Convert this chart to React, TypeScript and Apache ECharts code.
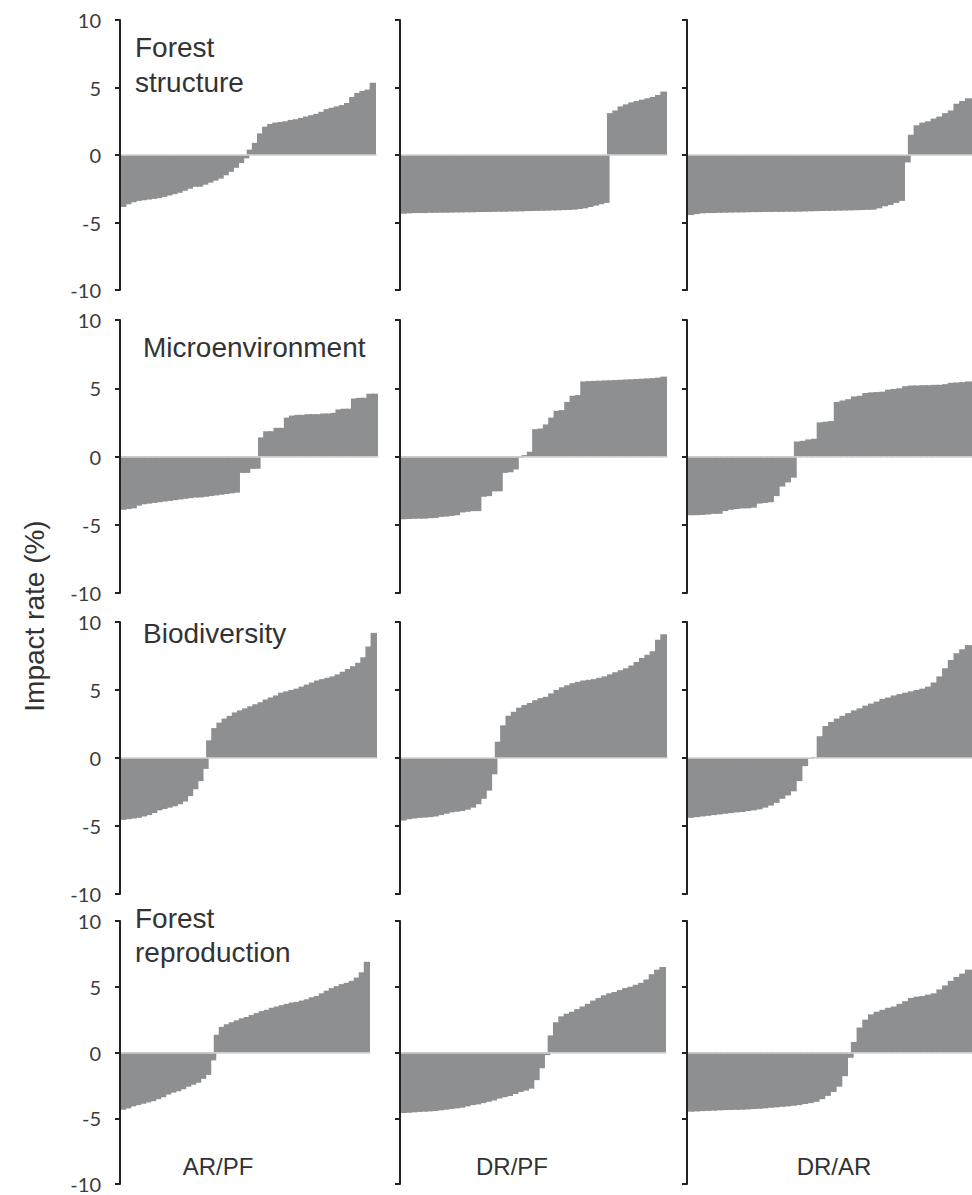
import React, { useEffect, useRef } from "react";
import * as echarts from "echarts";

// Row panels (top to bottom) and column comparisons (left to right)
const panelTitles = ["Forest\nstructure", "Microenvironment", "Biodiversity", "Forest\nreproduction"];
const comparisons = ["AR/PF", "DR/PF", "DR/AR"];
const yTicks = [-10, -5, 0, 5, 10];

// Forest structure
const fsARPF = [-3.85,-3.65,-3.5,-3.4,-3.35,-3.3,-3.25,-3.2,-3.1,-3.0,
  -2.9,-2.8,-2.65,-2.5,-2.35,-2.35,-2.2,-2.05,-1.9,-1.75,
  -1.5,-1.25,-0.95,-0.6,-0.25,0.4,0.9,1.6,2.1,2.3,
  2.4,2.45,2.5,2.6,2.65,2.75,2.85,2.95,3.05,3.2,
  3.4,3.5,3.6,3.7,3.85,4.3,4.6,4.75,4.85,5.35];
const fsDRPF = [-4.35,-4.32,-4.3,-4.3,-4.3,-4.28,-4.28,-4.27,-4.27,-4.26,
  -4.25,-4.25,-4.24,-4.24,-4.23,-4.22,-4.22,-4.21,-4.2,-4.2,
  -4.19,-4.18,-4.17,-4.16,-4.15,-4.14,-4.13,-4.12,-4.1,-4.1,
  -4.08,-4.07,-4.05,-4.0,-3.95,-3.85,-3.75,-3.65,-3.55,
  3.1,3.3,3.6,3.75,3.9,4.0,4.1,4.2,4.3,4.45,4.7];
const fsDRAR = [-4.45,-4.38,-4.32,-4.3,-4.3,-4.28,-4.27,-4.26,-4.25,-4.25,
  -4.24,-4.23,-4.23,-4.22,-4.22,-4.21,-4.21,-4.2,-4.2,-4.19,
  -4.18,-4.17,-4.16,-4.15,-4.14,-4.13,-4.12,-4.11,-4.1,-4.09,
  -4.08,-4.06,-4.05,-3.95,-3.8,-3.7,-3.55,-3.4,-0.55,
  1.5,2.2,2.4,2.5,2.7,2.85,3.1,3.3,3.8,4.0,4.2];

// Microenvironment
const meARPF = [-3.9,-3.85,-3.8,-3.6,-3.5,-3.45,-3.4,-3.35,-3.3,-3.25,
  -3.2,-3.15,-3.1,-3.05,-3.0,-3.0,-2.95,-2.9,-2.85,-2.8,
  -2.75,-2.7,-2.65,-1.2,-1.2,-0.9,-0.9,1.4,1.85,1.85,
  2.1,2.1,2.85,3.0,3.05,3.05,3.1,3.1,3.1,3.15,
  3.15,3.2,3.45,3.5,3.5,4.25,4.3,4.3,4.6,4.6];
const meDRPF = [-4.6,-4.58,-4.56,-4.55,-4.55,-4.52,-4.5,-4.42,-4.4,-4.35,
  -4.3,-4.1,-4.05,-4.0,-4.0,-2.95,-2.9,-2.55,-2.55,-1.2,
  -1.15,-0.95,-0.1,0.1,0.35,2.0,2.05,2.35,2.85,3.35,
  3.4,4.0,4.45,4.5,5.5,5.52,5.54,5.55,5.57,5.58,
  5.6,5.62,5.64,5.66,5.68,5.7,5.72,5.74,5.78,5.85];
const meDRAR = [-4.3,-4.3,-4.28,-4.25,-4.2,-4.2,-4.0,-3.9,-3.85,-3.8,
  -3.8,-3.75,-3.45,-3.4,-3.35,-2.9,-2.2,-1.9,-1.55,1.1,
  1.15,1.25,1.3,2.5,2.55,2.6,4.0,4.1,4.2,4.4,
  4.45,4.65,4.7,4.72,4.75,4.9,4.95,5.0,5.15,5.2,
  5.2,5.22,5.22,5.25,5.25,5.3,5.4,5.42,5.45,5.5];

// Biodiversity
const bdARPF = [-4.55,-4.5,-4.45,-4.4,-4.3,-4.2,-4.05,-3.85,-3.75,-3.65,
  -3.55,-3.4,-3.2,-2.8,-2.3,-1.7,-0.8,1.3,2.2,2.6,
  2.9,3.1,3.35,3.5,3.65,3.8,3.95,4.1,4.3,4.45,
  4.6,4.8,4.9,5.0,5.1,5.25,5.4,5.55,5.7,5.8,
  5.9,6.0,6.15,6.35,6.55,6.75,7.0,7.4,8.2,9.2];
const bdDRPF = [-4.6,-4.5,-4.45,-4.4,-4.38,-4.35,-4.3,-4.2,-4.1,-4.0,
  -3.95,-3.9,-3.8,-3.65,-3.4,-3.0,-2.4,-1.2,1.2,2.4,
  3.1,3.4,3.7,3.9,4.05,4.25,4.4,4.5,4.75,5.0,
  5.2,5.35,5.5,5.6,5.7,5.75,5.8,5.9,6.0,6.15,
  6.3,6.45,6.6,6.8,7.05,7.35,7.6,7.85,8.7,9.1];
const bdDRAR = [-4.4,-4.35,-4.3,-4.25,-4.2,-4.15,-4.1,-4.05,-4.0,-3.97,
  -3.9,-3.85,-3.78,-3.65,-3.5,-3.3,-3.0,-2.75,-2.45,-1.7,
  -0.6,-0.05,0.05,1.6,2.35,2.65,2.9,3.1,3.3,3.5,
  3.65,3.85,4.0,4.15,4.35,4.45,4.6,4.7,4.8,4.9,
  5.0,5.1,5.25,5.55,6.0,6.6,7.2,7.7,8.0,8.3];

// Forest reproduction
const frARPF = [-4.35,-4.25,-4.1,-4.0,-3.9,-3.8,-3.7,-3.55,-3.4,-3.2,
  -3.05,-2.95,-2.8,-2.6,-2.45,-2.3,-2.0,-1.7,-0.6,1.35,
  1.95,2.15,2.3,2.45,2.6,2.7,2.85,3.0,3.15,3.25,
  3.4,3.5,3.6,3.7,3.8,3.85,3.95,4.05,4.2,4.3,
  4.5,4.7,4.9,5.05,5.2,5.3,5.45,5.7,6.1,6.9];
const frDRPF = [-4.6,-4.58,-4.55,-4.52,-4.5,-4.48,-4.45,-4.4,-4.35,-4.3,
  -4.25,-4.2,-4.1,-4.0,-3.95,-3.85,-3.75,-3.65,-3.5,-3.4,
  -3.3,-3.15,-3.0,-2.9,-2.75,-2.1,-1.2,-0.2,1.3,2.3,
  2.75,2.95,3.1,3.3,3.5,3.7,3.95,4.15,4.35,4.5,
  4.6,4.75,4.9,5.0,5.15,5.3,5.55,5.95,6.3,6.5];
const frDRAR = [-4.5,-4.48,-4.46,-4.44,-4.42,-4.4,-4.38,-4.37,-4.36,-4.35,
  -4.33,-4.3,-4.28,-4.25,-4.2,-4.17,-4.13,-4.1,-4.05,-4.0,
  -3.92,-3.85,-3.75,-3.55,-3.3,-3.0,-2.6,-1.8,-0.4,0.8,
  1.9,2.5,2.9,3.1,3.25,3.4,3.5,3.7,3.9,4.15,
  4.25,4.3,4.4,4.5,4.8,5.1,5.45,5.75,6.0,6.3];

const panelData = [
  [fsARPF, fsDRPF, fsDRAR],
  [meARPF, meDRPF, meDRAR],
  [bdARPF, bdDRPF, bdDRAR],
  [frARPF, frDRPF, frDRAR],
];

export default function App() {
  const ref = useRef<HTMLDivElement>(null);

  useEffect(() => {
    if (!ref.current) return;
    const chart = echarts.init(ref.current, undefined, { renderer: "svg" });

    const rowTops = [20, 320, 622, 921];
    const rowHeights = [270, 273, 272, 263];
    const colLefts = [120, 400, 687];
    const widths = [
      [256, 267, 300],
      [258, 267, 300],
      [257, 267, 300],
      [250, 266, 300],
    ];
    const barColor = "#8e8f91";
    const axisColor = "#222222";

    const grids: any[] = [];
    const xAxes: any[] = [];
    const yAxes: any[] = [];
    const series: any[] = [];
    let idx = 0;
    for (let r = 0; r < 4; r++) {
      for (let c = 0; c < 3; c++) {
        const data = panelData[r][c];
        grids.push({
          left: colLefts[c],
          top: rowTops[r],
          width: widths[r][c],
          height: rowHeights[r],
          containLabel: false,
        });
        xAxes.push({
          type: "category",
          gridIndex: idx,
          data: data.map((_, i) => String(i + 1)),
          boundaryGap: true,
          axisLine: { show: true, onZero: true, lineStyle: { color: "#d2d2d2", width: 1.5 } },
          axisTick: { show: false },
          axisLabel: { show: false },
          splitLine: { show: false },
          z: 5,
        });
        yAxes.push({
          type: "value",
          gridIndex: idx,
          min: yTicks[0],
          max: yTicks[yTicks.length - 1],
          interval: 5,
          axisLine: { show: true, lineStyle: { color: axisColor, width: 2 } },
          axisTick: { show: true, inside: false, length: 5, lineStyle: { color: axisColor, width: 2 } },
          splitLine: { show: false },
          axisLabel: {
            show: c === 0,
            fontSize: 20,
            fontFamily: "Lato",
            color: "#3c3c3c",
            margin: 19,
          },
          z: 6,
        });
        series.push({
          type: "bar",
          xAxisIndex: idx,
          yAxisIndex: idx,
          data,
          barWidth: "150%",
          barGap: "0%",
          silent: true,
          itemStyle: { color: barColor },
        });
        idx++;
      }
    }

    const titleFont = "Liberation Sans, Arial, sans-serif";
    const graphic: any[] = [
      {
        type: "text",
        x: 135,
        y: 30,
        style: { text: panelTitles[0], fontSize: 28, fontFamily: titleFont, fill: "#333", align: "left", verticalAlign: "top", lineHeight: 35 },
      },
      {
        type: "text",
        x: 143,
        y: 347,
        style: { text: panelTitles[1], fontSize: 28, fontFamily: titleFont, fill: "#333", align: "left", verticalAlign: "middle" },
      },
      {
        type: "text",
        x: 143,
        y: 633,
        style: { text: panelTitles[2], fontSize: 28, fontFamily: titleFont, fill: "#333", align: "left", verticalAlign: "middle" },
      },
      {
        type: "text",
        x: 135,
        y: 901,
        style: { text: panelTitles[3], fontSize: 28, fontFamily: titleFont, fill: "#333", align: "left", verticalAlign: "top", lineHeight: 34 },
      },
      {
        type: "text",
        x: 34,
        y: 616,
        rotation: Math.PI / 2,
        style: { text: "Impact rate (%)", fontSize: 28, fontFamily: titleFont, fill: "#333", align: "center", verticalAlign: "middle" },
      },
      ...comparisons.map((t, i) => ({
        type: "text",
        x: [218, 512, 834][i],
        y: 1166,
        style: { text: t, fontSize: 24, fontFamily: titleFont, fill: "#333", align: "center", verticalAlign: "middle" },
      })),
    ];

    chart.setOption({
      animation: false,
      backgroundColor: "#ffffff",
      grid: grids,
      xAxis: xAxes,
      yAxis: yAxes,
      series,
      graphic,
    });

    return () => chart.dispose();
  }, []);

  return (
    <div
      ref={ref}
      style={{ position: "absolute", left: 0, top: 0, width: 972, height: 1195, overflow: "hidden" }}
    />
  );
}
